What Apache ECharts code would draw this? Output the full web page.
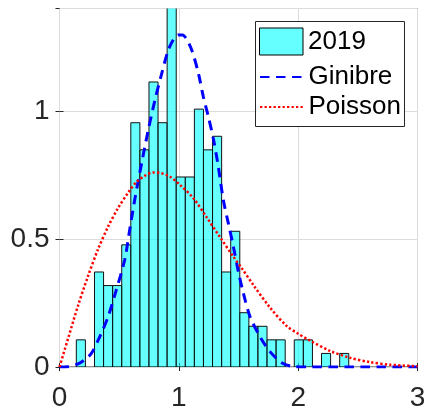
<!DOCTYPE html>
<html>
<head>
<meta charset="utf-8">
<script src="https://cdn.jsdelivr.net/npm/echarts@6/dist/echarts.min.js"></script>
<style>
html,body{margin:0;padding:0;background:#fff;}
#c{width:425px;height:407px;}
</style>
</head>
<body>
<div id="c"></div>
<script>
// ---- data ----
const binStart = 0.141;
const binWidth = 0.0761;
const binDensity = [0.106, 0, 0.371, 0.318, 0.318, 0.477, 0.954, 0.848, 1.113, 0.954,
  1.484, 0.742, 0.742, 1.007, 0.848, 0.901, 0.371, 0.530, 0.212, 0.159,
  0.159, 0.106, 0.106, 0, 0.106, 0.106, 0, 0.053, 0, 0.053];

const ginibreS = [0, 0.07, 0.155, 0.21, 0.267, 0.337, 0.407, 0.476, 0.546, 0.588, 0.63, 0.69, 0.744,
  0.80, 0.857, 0.912, 0.96, 0.996, 1.03, 1.06, 1.108, 1.164, 1.205, 1.247, 1.29, 1.331, 1.373, 1.415,
  1.457, 1.499, 1.541, 1.597, 1.681, 1.764, 1.862, 1.96, 2.1, 2.4, 2.7, 3.0];
const ginibreV = [0, 0.001, 0.012, 0.028, 0.053, 0.118, 0.196, 0.301, 0.418, 0.535, 0.652, 0.80, 0.926,
  1.043, 1.147, 1.238, 1.283, 1.297, 1.297, 1.284, 1.238, 1.147, 1.056, 0.978, 0.89, 0.782, 0.652, 0.561,
  0.470, 0.372, 0.288, 0.196, 0.118, 0.060, 0.017, 0.002, 0, 0, 0, 0];

const poissonS = [0, 0.071, 0.155, 0.239, 0.323, 0.407, 0.49, 0.574, 0.644, 0.72, 0.786, 0.85, 0.92,
  1.01, 1.122, 1.234, 1.345, 1.457, 1.527, 1.625, 1.764, 1.904, 2.0, 2.1, 2.267, 2.435, 2.603, 2.77, 3.0];
const poissonV = [0, 0.110, 0.239, 0.355, 0.460, 0.548, 0.620, 0.680, 0.722, 0.748, 0.760, 0.757, 0.745,
  0.711, 0.659, 0.584, 0.507, 0.431, 0.386, 0.320, 0.232, 0.160, 0.130, 0.103, 0.063, 0.036, 0.019, 0.009, 0.003];

const xTicks = [0, 1, 2, 3];
const yTicks = [0, 0.5, 1];

// ---- chart ----
const chart = echarts.init(document.getElementById('c'), null, {renderer: 'canvas'});
const FONT = 'Liberation Sans';
const TXT = '#262626';

const histData = binDensity.map((v, i) => [binStart + i * binWidth, binStart + (i + 1) * binWidth, v]);

const axisCommon = {
  axisLine: {show: false},
  axisTick: {show: true, inside: true, length: 4, lineStyle: {color: TXT, width: 1}},
  splitLine: {show: false}
};

chart.setOption({
  animation: false,
  backgroundColor: '#fff',
  grid: {left: 59.5, right: 7.5, top: 8.5, bottom: 40, show: true, borderColor: TXT, borderWidth: 1,
    backgroundColor: 'transparent', containLabel: false, outerBoundsMode: 'none'},
  xAxis: [
    Object.assign({}, axisCommon, {
      type: 'value', min: 0, max: 3, interval: 1, position: 'bottom',
      axisLabel: {show: true, fontFamily: FONT, fontSize: 28, color: TXT, margin: 17,
        formatter: v => xTicks.includes(v) ? String(v) : ''},
      splitLine: {show: true, lineStyle: {color: '#dcdcdc', width: 1}}
    }),
    Object.assign({}, axisCommon, {
      type: 'value', min: 0, max: 3, interval: 1, position: 'top',
      axisLabel: {show: false}
    })
  ],
  yAxis: [
    Object.assign({}, axisCommon, {
      type: 'value', min: 0, max: 1.4, interval: 0.5, position: 'left',
      axisLabel: {show: true, fontFamily: FONT, fontSize: 28, color: TXT, margin: 10, showMaxLabel: false,
        formatter: v => yTicks.includes(v) ? String(v) : ''},
      splitLine: {show: true, lineStyle: {color: '#dcdcdc', width: 1}}
    }),
    Object.assign({}, axisCommon, {
      type: 'value', min: 0, max: 1.4, interval: 0.5, position: 'right',
      axisLabel: {show: false}
    })
  ],
  legend: [
    {
      data: [{name: '2019', icon: 'rect', itemStyle: {color: 'rgb(102,255,255)', borderColor: '#000', borderWidth: 1}}],
      left: 259, top: 27.5, padding: 0, orient: 'vertical', itemWidth: 43.5, itemHeight: 27, itemGap: 0,
      textStyle: {fontFamily: FONT, fontSize: 26, color: '#000'},
      selectedMode: false, z: 6
    },
    {
      data: ['Ginibre', 'Poisson'],
      left: 259, top: 64, padding: 0, orient: 'vertical', itemWidth: 43.5, itemHeight: 20, itemGap: 4,
      itemStyle: {opacity: 0},
      textStyle: {fontFamily: FONT, fontSize: 26, color: '#000'},
      selectedMode: false, z: 6
    }
  ],
  graphic: [{
    type: 'rect', left: 255, top: 21, z: 5,
    shape: {width: 149, height: 105},
    style: {fill: '#fff', stroke: '#262626', lineWidth: 1}
  }],
  series: [
    {
      name: '2019',
      type: 'custom',
      clip: true,
      z: 2,
      data: histData,
      renderItem: function (params, api) {
        const v = api.value(2);
        if (!(v > 0)) return null;
        const p0 = api.coord([api.value(0), v]);
        const p1 = api.coord([api.value(1), 0]);
        return {
          type: 'rect',
          shape: {x: p0[0], y: p0[1], width: p1[0] - p0[0], height: p1[1] - p0[1]},
          style: {fill: 'rgba(0,255,255,0.6)', stroke: '#111', lineWidth: 1}
        };
      },
      itemStyle: {color: 'rgb(102,255,255)'}
    },
    {
      name: 'Ginibre',
      type: 'line',
      z: 3,
      smooth: 0.3,
      symbol: 'none',
      data: ginibreS.map((s, i) => [s, ginibreV[i]]),
      lineStyle: {color: '#0000ff', width: 3, type: [9.5, 6.5]},
      itemStyle: {color: '#0000ff'}
    },
    {
      name: 'Poisson',
      type: 'line',
      z: 3,
      smooth: 0.3,
      symbol: 'none',
      data: poissonS.map((s, i) => [s, poissonV[i]]),
      lineStyle: {color: '#ff0000', width: 2.5, type: [2.3, 2.2]},
      itemStyle: {color: '#ff0000'}
    }
  ]
});
</script>
</body>
</html>
